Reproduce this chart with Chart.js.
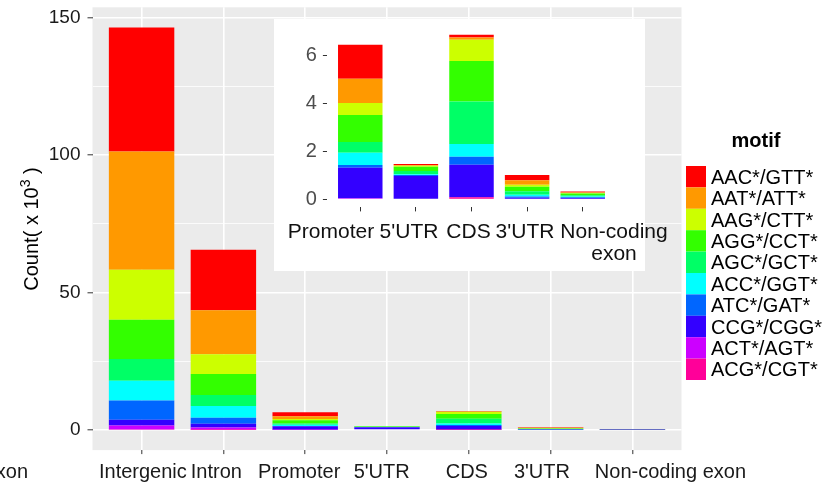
<!DOCTYPE html>
<html><head><meta charset="utf-8">
<script src="https://cdn.jsdelivr.net/npm/chart.js@4/dist/chart.umd.min.js"></script>
<style>
html,body{margin:0;padding:0;background:#fff;}
#wrap{position:relative;width:833px;height:489px;overflow:hidden;background:#fff;}
#main{position:absolute;left:0;top:0;}
#insetBox{position:absolute;left:274px;top:19px;width:371px;height:252px;background:#fff;}
#inset{position:absolute;left:274px;top:19px;}
</style></head><body>
<div id="wrap">
<canvas id="main" width="833" height="489"></canvas>
<div id="insetBox"></div>
<canvas id="inset" width="430" height="252"></canvas>
</div>
<script>
// ---- data (values in thousands) ----
const regions = ["Intergenic", "Intron", "Promoter", "5'UTR", "CDS", "3'UTR", "Non-coding exon"];
const motifs = ["AAC*/GTT*", "AAT*/ATT*", "AAG*/CTT*", "AGG*/CCT*", "AGC*/GCT*",
                "ACC*/GGT*", "ATC*/GAT*", "CCG*/CGG*", "ACT*/AGT*", "ACG*/CGT*"];
const AAC = [45.1, 22.0, 1.42, 0.04, 0.11, 0.22, 0.04];
const AAT = [43.0, 16.0, 1.01, 0.03, 0.10, 0.19, 0.02];
const AAG = [18.2, 7.1, 0.50, 0.04, 0.88, 0.08, 0.02];
const AGG = [14.3, 7.7, 1.13, 0.18, 1.70, 0.19, 0.08];
const AGC = [7.9, 4.0, 0.45, 0.14, 1.77, 0.14, 0.05];
const ACC = [7.2, 4.3, 0.51, 0.03, 0.54, 0.08, 0.03];
const ATC = [7.0, 2.1, 0.12, 0.04, 0.33, 0.05, 0.03];
const CCG = [2.1, 1.4, 1.27, 0.97, 1.36, 0.06, 0.05];
const ACT = [1.4, 0.8, 0.04, 0.00, 0.00, 0.00, 0.00];
const ACG = [0.2, 0.1, 0.00, 0.00, 0.08, 0.00, 0.00];
const mainYTicks = [0, 50, 100, 150];
const insetYTicks = [0, 2, 4, 6];

const seriesList = [AAC, AAT, AAG, AGG, AGC, ACC, ATC, CCG, ACT, ACG];
const colors = ["#FF0000", "#FF9900", "#CCFF00", "#33FF00", "#00FF66",
                "#00FFFF", "#0066FF", "#3300FF", "#CC00FF", "#FF0099"];

const FONT = "'Liberation Sans', Arial, Helvetica, sans-serif";
Chart.defaults.font.family = FONT;

function makeDatasets(from, to) {
  return motifs.map((m, k) => ({
    label: m,
    data: seriesList[k].slice(from, to).map((v, i) => ({x: i, y: v})),
    backgroundColor: colors[k],
    borderWidth: 0,
    barPercentage: 0.8,
    categoryPercentage: 1
  })).reverse(); // first dataset sits at the bottom of the stack
}

function fixBox(w, h) {
  return s => {
    if (w !== null) s.width = w;
    if (h !== null) s.height = h;
    s.paddingTop = 0; s.paddingBottom = 0; s.paddingLeft = 0; s.paddingRight = 0;
  };
}

const panelBg = {
  id: 'panelBg',
  beforeDraw(chart, args, opts) {
    if (!opts || !opts.color) return;
    const {ctx, chartArea: a} = chart;
    ctx.save();
    ctx.fillStyle = opts.color;
    ctx.fillRect(a.left, a.top, a.right - a.left, a.bottom - a.top);
    ctx.restore();
  }
};

const textLayer = {
  id: 'textLayer',
  afterDraw(chart, args, o) {
    if (!o || !o.labels) return;
    const ctx = chart.ctx;
    const xs = chart.scales.x;
    ctx.save();
    ctx.fillStyle = o.color;
    ctx.font = o.size + "px " + FONT;
    ctx.textAlign = 'center';
    ctx.textBaseline = 'alphabetic';
    o.labels.forEach((lab, i) => {
      const cx = xs.getPixelForValue(i) + (o.shift[i] || 0);
      const lines = o.wrap ? lab.split(' ') : [lab];
      lines.forEach((ln, j) => ctx.fillText(ln, cx, o.baseline + j * o.lineGap));
    });
    if (o.extra) {
      // y-axis title with superscript
      const t = o.extra;
      ctx.save();
      ctx.translate(t.titleX, t.titleY);
      ctx.rotate(-Math.PI / 2);
      ctx.fillStyle = '#000';
      const big = "20px " + FONT, small = "14px " + FONT;
      ctx.font = big; const w1 = ctx.measureText("Count( x 10").width;
      ctx.font = small; const w2 = ctx.measureText("3").width;
      ctx.font = big; const w3 = ctx.measureText(" )").width;
      let x0 = -(w1 + w2 + w3) / 2;
      ctx.textAlign = 'left';
      ctx.font = big; ctx.fillText("Count( x 10", x0, 0);
      ctx.font = small; ctx.fillText("3", x0 + w1, -8);
      ctx.font = big; ctx.fillText(" )", x0 + w1 + w2, 0);
      ctx.restore();
      // clipped label at the left edge
      ctx.textAlign = 'right';
      ctx.font = o.size + "px " + FONT;
      ctx.fillStyle = o.color;
      ctx.fillText("exon", 28, o.baseline);
      // legend
      ctx.textAlign = 'center';
      ctx.fillStyle = '#000';
      ctx.font = "bold 20px " + FONT;
      ctx.fillText("motif", 756, 146.5);
      ctx.textAlign = 'left';
      ctx.font = "20px " + FONT;
      motifs.forEach((m, k) => {
        const y = 166 + k * 21.4;
        ctx.fillStyle = colors[k];
        ctx.fillRect(686, y, 20, 21.4);
        ctx.fillStyle = '#000';
        ctx.fillText(m, 711, y + 10.7 + 7);
      });
    }
    ctx.restore();
  }
};

new Chart(document.getElementById('main'), {
  type: 'bar',
  data: {datasets: makeDatasets(0, 7)},
  plugins: [panelBg, textLayer],
  options: {
    responsive: false,
    animation: false,
    layout: {padding: {top: 7.3, right: 833 - 681.5, left: 0, bottom: 0}},
    plugins: {
      legend: {display: false},
      tooltip: {enabled: false},
      panelBg: {color: '#EBEBEB'},
      textLayer: {
        labels: regions, shift: [1.3, -7, -6, -5.3, -2, -8.7, 38],
        baseline: 477.5, lineGap: 22, size: 20, color: '#1a1a1a', wrap: false,
        extra: {titleX: 38, titleY: 229}
      }
    },
    scales: {
      x: {
        type: 'linear', min: -0.6, max: 6.6, stacked: true, offset: false,
        grid: {offset: false, color: '#FFFFFF', lineWidth: 1.6, drawTicks: true, tickLength: 4,
               tickColor: '#333333', tickWidth: 1},
        border: {display: false},
        ticks: {stepSize: 1, includeBounds: false, autoSkip: false, maxRotation: 0, minRotation: 0,
                callback: () => ''},
        afterFit: fixBox(null, 489 - 450.1)
      },
      y: {
        type: 'linear', min: -7.32, max: 153.72, stacked: true,
        grid: {
          color: '#FFFFFF',
          lineWidth: c => (c.tick && mainYTicks.includes(c.tick.value)) ? 1.6 : 0.8,
          drawTicks: true, tickLength: 5, tickWidth: 1,
          tickColor: c => (c.tick && mainYTicks.includes(c.tick.value)) ? '#333333' : 'rgba(0,0,0,0)'
        },
        border: {display: false},
        ticks: {
          stepSize: 25, includeBounds: false, color: '#1a1a1a', padding: 7,
          font: {size: 19},
          callback: v => mainYTicks.includes(v) ? String(v) : ''
        },
        afterFit: fixBox(92.5, null)
      }
    }
  }
});

new Chart(document.getElementById('inset'), {
  type: 'bar',
  data: {datasets: makeDatasets(2, 7)},
  plugins: [textLayer],
  options: {
    responsive: false,
    animation: false,
    layout: {padding: {top: 7.6, right: 430 - 342.1, left: 0, bottom: 0}},
    plugins: {
      legend: {display: false},
      tooltip: {enabled: false},
      textLayer: {
        labels: regions.slice(2), shift: [-29.3, -6.9, -3, -2.1, 31.3],
        baseline: 219.3, lineGap: 21.7, size: 21, color: '#111111', wrap: true
      }
    },
    scales: {
      x: {
        type: 'linear', min: -0.6, max: 4.6, stacked: true, offset: false,
        grid: {offset: false, drawOnChartArea: false, drawTicks: true, tickLength: 4,
               tickColor: '#333333', tickWidth: 1},
        border: {display: false},
        ticks: {stepSize: 1, includeBounds: false, autoSkip: false, maxRotation: 0, minRotation: 0,
                callback: () => ''},
        afterFit: fixBox(null, 252 - 188.4)
      },
      y: {
        type: 'linear', min: -0.3435, max: 7.2135, stacked: true,
        grid: {drawOnChartArea: false, drawTicks: true, tickLength: 4, tickColor: '#333333', tickWidth: 1},
        border: {display: false},
        ticks: {
          stepSize: 2, includeBounds: false, color: '#4D4D4D', padding: 6,
          font: {size: 20},
          callback: v => insetYTicks.includes(v) ? String(v) : ''
        },
        afterFit: fixBox(52.9, null)
      }
    }
  }
});
</script>
</body></html>
